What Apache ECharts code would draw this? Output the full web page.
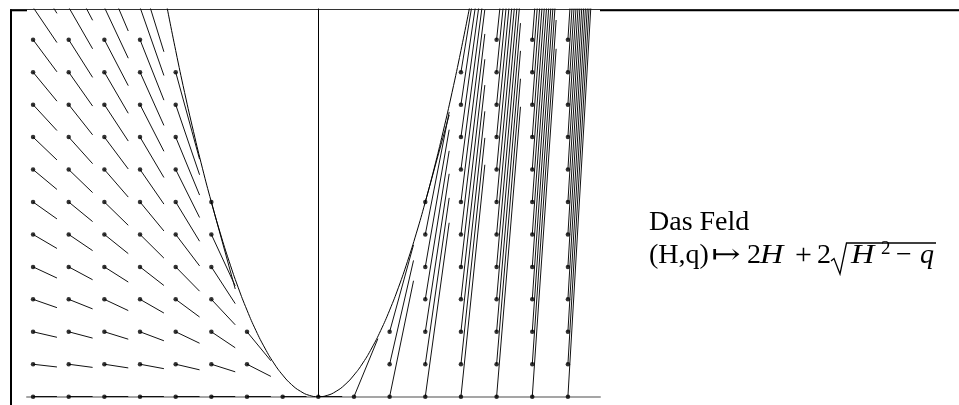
<!DOCTYPE html>
<html>
<head>
<meta charset="utf-8">
<script src="https://cdn.jsdelivr.net/npm/echarts@6/dist/echarts.min.js"></script>
<style>
html, body { margin: 0; padding: 0; background: #fff; }
#chart { width: 959px; height: 405px; }
</style>
</head>
<body>
<div id="chart"></div>
<script>
// sample grid of the field (H on x, q on y)
const hValues = [-8, -7, -6, -5, -4, -3, -2, -1, 0, 1, 2, 3, 4, 5, 6, 7];
const qValues = [0, 1.5, 3, 4.5, 6, 7.5, 9, 10.5, 12, 13.5, 15, 16.5, 18, 19.5];
// every arrow goes this far in H
const stepH = 0.67;

// boundary curve q = H^2
const parabolaH = [-4.25, -4, -3.75, -3.5, -3.25, -3, -2.75, -2.5, -2.25, -2, -1.75, -1.5, -1.25, -1, -0.75, -0.5, -0.25,
  0, 0.25, 0.5, 0.75, 1, 1.25, 1.5, 1.75, 2, 2.25, 2.5, 2.75, 3, 3.25, 3.5, 3.75, 4, 4.25];
const parabolaQ = [18.06, 16, 14.06, 12.25, 10.56, 9, 7.56, 6.25, 5.06, 4, 3.06, 2.25, 1.56, 1, 0.56, 0.25, 0.06,
  0, 0.06, 0.25, 0.56, 1, 1.56, 2.25, 3.06, 4, 5.06, 6.25, 7.56, 9, 10.56, 12.25, 14.06, 16, 18.06];

// the field from the caption: (H,q) -> 2H + 2 sqrt(H^2 - q)
function field(h, q) {
  return 2 * h + 2 * Math.sqrt(h * h - q);
}

const dots = [];
const segments = [];
qValues.forEach(function (q) {
  hValues.forEach(function (h) {
    if (h * h < q) return; // no real root inside the parabola
    dots.push([h, q]);
    segments.push({ coords: [[h, q], [h + stepH, q + stepH * field(h, q)]] });
  });
});

const chart = echarts.init(document.getElementById('chart'));

const serif = '"Liberation Serif", "DejaVu Serif", serif';
function txt(x, y, s, size, italic, extra) {
  const el = {
    type: 'text',
    x: x,
    y: y,
    silent: true,
    style: {
      text: s,
      font: (italic ? 'italic ' : '') + size + 'px ' + serif,
      fill: '#000',
      textAlign: 'left',
      verticalAlign: 'middle'
    }
  };
  return Object.assign(el, extra || {});
}

let option = {
  animation: false,
  backgroundColor: '#fff',
  grid: { left: 27, right: 359, top: 9, bottom: 8.3 },
  xAxis: {
    type: 'value',
    min: -8.17,
    max: 7.9,
    axisLine: { show: true, onZero: true, lineStyle: { color: '#a5a5a5', width: 2 } },
    axisTick: { show: false },
    axisLabel: { show: false },
    splitLine: { show: false }
  },
  yAxis: {
    type: 'value',
    min: 0,
    max: 17.92,
    axisLine: { show: true, onZero: true, lineStyle: { color: '#000', width: 1 } },
    axisTick: { show: false },
    axisLabel: { show: false },
    splitLine: { show: false }
  },
  series: [
    {
      type: 'line',
      data: parabolaH.map(function (h, i) { return [h, parabolaQ[i]]; }),
      smooth: true,
      showSymbol: false,
      clip: true,
      silent: true,
      lineStyle: { color: '#000', width: 1 },
      z: 3
    },
    {
      type: 'lines',
      coordinateSystem: 'cartesian2d',
      data: segments,
      clip: true,
      silent: true,
      lineStyle: { color: '#111', width: 1, opacity: 1 },
      z: 3
    },
    {
      type: 'scatter',
      data: dots,
      symbol: 'circle',
      symbolSize: 4.5,
      clip: true,
      silent: true,
      itemStyle: { color: '#000' },
      z: 4
    }
  ],
  graphic: [
    // frame
    { type: 'line', silent: true, shape: { x1: 10, y1: 9.5, x2: 959, y2: 9.5 }, style: { stroke: '#333', lineWidth: 1 } },
    { type: 'line', silent: true, shape: { x1: 600, y1: 10.5, x2: 959, y2: 10.5 }, style: { stroke: '#000', lineWidth: 1.6 } },
    { type: 'line', silent: true, shape: { x1: 10, y1: 10.5, x2: 27, y2: 10.5 }, style: { stroke: '#000', lineWidth: 1.6 } },
    { type: 'line', silent: true, shape: { x1: 11, y1: 9.5, x2: 11, y2: 405 }, style: { stroke: '#000', lineWidth: 2 } },
    // caption
    txt(649, 223, 'Das Feld', 28, false),
    txt(649, 256, '(H,q)', 28, false),
    txt(711, 256, '\u21a6', 27, false, { scaleX: 1.3 }),
    txt(747, 256, '2', 28, false),
    txt(760, 256, 'H', 28, true, { scaleX: 1.15 }),
    txt(795, 256, '+', 30, false),
    txt(817, 256, '2', 28, false),
    {
      type: 'polyline', silent: true,
      shape: { points: [[831, 261], [834, 258.5], [840, 274], [846.5, 243], [936, 243]] },
      style: { stroke: '#000', lineWidth: 1.3, fill: null }
    },
    txt(851, 256, 'H', 28, true, { scaleX: 1.15 }),
    txt(881, 249, '2', 19, false),
    txt(896, 256, '\u2212', 28, false),
    txt(920, 256, 'q', 28, true)
  ]
};

chart.setOption(option);
</script>
</body>
</html>
